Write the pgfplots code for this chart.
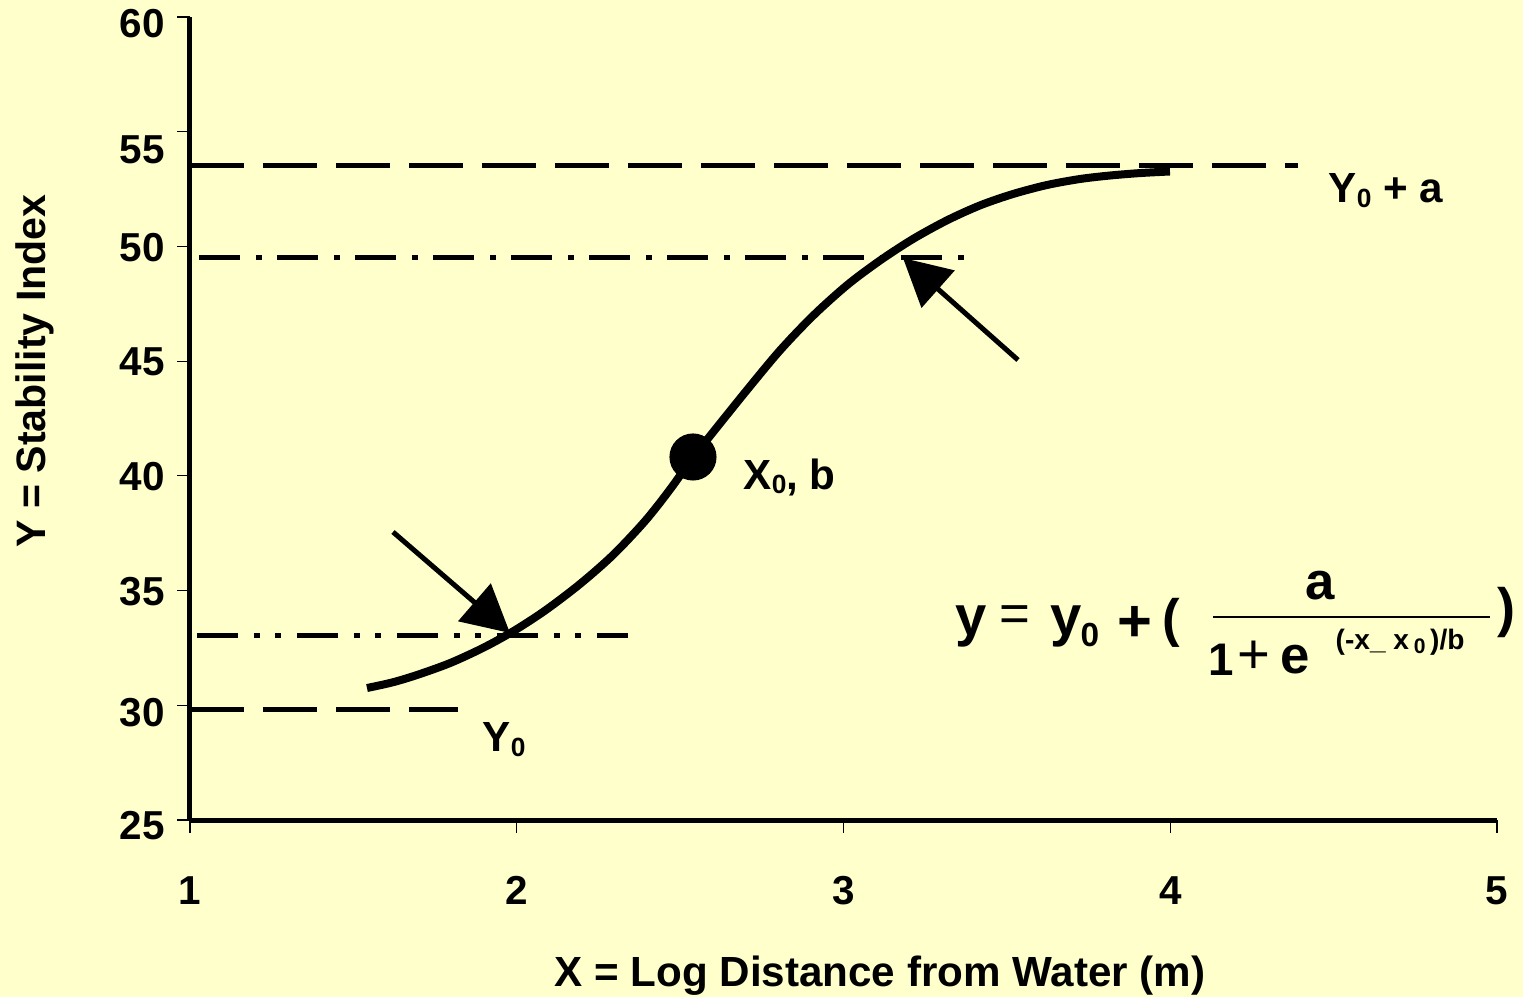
\documentclass[border=0pt]{standalone}
\usepackage{pgfplots}
\pgfplotsset{compat=1.18}
\usepackage{fontspec}
\setmainfont{Liberation Sans}
\usetikzlibrary{arrows.meta}
\definecolor{paper}{RGB}{255,255,204}
% small lowered index digit
\newcommand{\sub}[1]{{\fontsize{7.5}{8}\selectfont\raisebox{-1.2pt}{#1}}}
% shift a tick label down without changing its box
\newcommand{\lw}[2]{\raisebox{-#1}[\height][\depth]{#2}}

\begin{document}
\begin{tikzpicture}
\fill[paper] (-19mm,-17.7mm) rectangle (133.3mm,82mm);
\begin{axis}[
  at={(0,0)}, anchor=south west,
  scale only axis, width=130.7mm, height=80.3mm,
  xmin=1, xmax=5, ymin=25, ymax=60,
  axis x line=bottom, axis y line=left,
  axis line style={-, line width=0.5mm, black},
  xtick={1,2,3,4,5}, xticklabels={1,2,3,4,5},
  ytick={25,30,35,40,45,50,55,60},
  yticklabels={\lw{0.6mm}{25},\lw{0.7mm}{30},\lw{0.1mm}{35},\lw{0.1mm}{40},\lw{0.1mm}{45},\lw{0.1mm}{50},\lw{1.8mm}{55},\lw{0.7mm}{60}},
  tick align=outside, major tick length=1.25mm,
  tick style={black, line width=0.35pt},
  ticklabel style={font=\fontsize{11.5}{13}\selectfont\bfseries},
  yticklabel style={anchor=east, inner sep=0pt, xshift=-1.2mm},
  xticklabel style={anchor=north, inner sep=0pt, yshift=-4.3mm},
  xlabel={X = Log Distance from Water (m)},
  ylabel={Y = Stability Index},
  every axis x label/.style={at={(rel axis cs:0.5279,-0.1933)}, anchor=center, font=\fontsize{12}{14}\selectfont\bfseries},
  every axis y label/.style={at={(rel axis cs:-0.1189,0.5592)}, anchor=center, rotate=90, font=\fontsize{11.7}{14}\selectfont\bfseries},
  clip=false,
]
% reference levels
\addplot[black, line width=0.5mm, dash pattern=on 5.4mm off 1.9mm] coordinates {(1,53.549) (4.391,53.549)};
\addplot[black, line width=0.5mm, dash pattern=on 5.4mm off 1.9mm] coordinates {(1,29.838) (1.820,29.838)};
\addplot[black, line width=0.5mm, dash pattern=on 4.1mm off 1.6mm on 0.6mm off 1.5mm] coordinates {(1.0275,49.539) (3.372,49.539)};
\addplot[black, line width=0.5mm, dash pattern=on 4.1mm off 1.6mm on 0.6mm off 1.5mm on 0.6mm off 1.6mm] coordinates {(1.0214,33.063) (2.3405,33.063)};
% fitted sigmoid
\addplot[black, line width=0.8mm, smooth] coordinates {
(1.5417,30.753) (1.6182,30.993) (1.6947,31.320) (1.7957,31.839) (1.8967,32.501) (1.9885,33.220)
(2.0865,34.127) (2.1936,35.286) (2.2946,36.550) (2.3925,38.028) (2.4690,39.405)
(2.5394,40.809) (2.5914,41.737) (2.7047,43.742) (2.8057,45.468) (2.9067,46.976)
(3.0107,48.310) (3.1117,49.386) (3.2127,50.324) (3.3168,51.138) (3.4178,51.788)
(3.5188,52.285) (3.6228,52.677) (3.7238,52.939) (3.8156,53.091) (3.9105,53.200)
(3.9992,53.266)};
% inflection point
\addplot[only marks, mark=*, mark size=6.5pt, black] coordinates {(2.5394,40.822)};
% arrows to the bending points
\draw[black, line width=0.5mm, -{Triangle[length=4.7mm,width=4.9mm]}] (axis cs:1.6213,37.553) -- (axis cs:1.9793,33.151);
\draw[black, line width=0.5mm, -{Triangle[length=4.7mm,width=4.9mm]}] (axis cs:3.5340,45.050) -- (axis cs:3.1821,49.495);
% labels
\node[anchor=base west, inner sep=0pt, font=\fontsize{12}{14}\selectfont\bfseries] at (axis cs:4.4828,51.893) {Y\sub{0} + a};
\node[anchor=base west, inner sep=0pt, font=\fontsize{12}{14}\selectfont\bfseries] at (axis cs:2.6924,39.427) {X\sub{0}, b};
\node[anchor=base west, inner sep=0pt, font=\fontsize{12}{14}\selectfont\bfseries] at (axis cs:1.8937,27.964) {Y\sub{0}};
% logistic equation
\node[anchor=base west, inner sep=0pt, font=\fontsize{16}{18}\selectfont\bfseries] at (axis cs:3.3412,33.063) {y};
\node[anchor=center, inner sep=0pt, font=\fontsize{15}{18}\selectfont] at (axis cs:3.5250,33.761) {=};
\node[anchor=base west, inner sep=0pt, font=\fontsize{16}{18}\selectfont\bfseries] at (axis cs:3.6320,33.063) {y};
\node[anchor=base west, inner sep=0pt, font=\fontsize{9.5}{11}\selectfont\bfseries] at (axis cs:3.7238,32.584) {0};
\node[anchor=center, inner sep=0pt, font=\fontsize{17}{20}\selectfont\bfseries] at (axis cs:3.8921,33.543) {+};
\node[anchor=west, inner sep=0pt, font=\fontsize{15}{18}\selectfont\bfseries] at (axis cs:3.9750,33.587) {(};
\draw[black, line width=0.2mm] (axis cs:4.1308,33.848) -- (axis cs:4.9786,33.848);
\node[anchor=base west, inner sep=0pt, font=\fontsize{15}{18}\selectfont\bfseries] at (axis cs:4.4124,34.589) {a};
\node[anchor=base west, inner sep=0pt, font=\fontsize{13}{16}\selectfont\bfseries] at (axis cs:4.1155,31.320) {1};
\node[anchor=center, inner sep=0pt, font=\fontsize{16}{18}\selectfont] at (axis cs:4.2563,32.105) {+};
\node[anchor=base west, inner sep=0pt, font=\fontsize{15}{18}\selectfont\bfseries] at (axis cs:4.3359,31.364) {e};
\node[anchor=base west, inner sep=0pt, font=\fontsize{8}{9}\selectfont\bfseries] at (axis cs:4.5042,32.410) {(-x\_ x\,{\fontsize{6}{7}\selectfont\raisebox{-1pt}{0}}\,)/b};
\node[anchor=west, inner sep=0pt, font=\fontsize{15.4}{18}\selectfont\bfseries] at (axis cs:5.0000,34.044) {)};
\end{axis}
\end{tikzpicture}
\end{document}
